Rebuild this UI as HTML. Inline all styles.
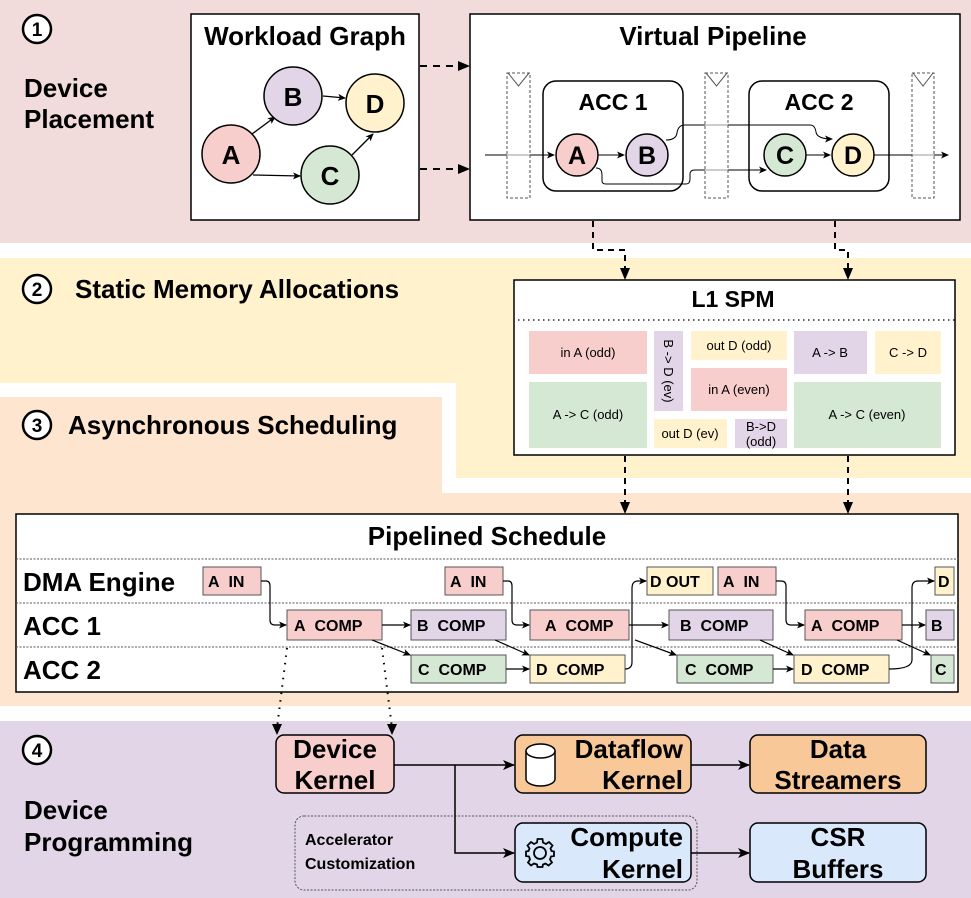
<!DOCTYPE html>
<html><head><meta charset="utf-8"><style>
html,body{margin:0;padding:0;background:#fff}
svg{display:block;font-family:"Liberation Sans",Arial,sans-serif}
.b{font-weight:bold}
</style></head><body>
<svg width="971" height="898" viewBox="0 0 971 898" xmlns="http://www.w3.org/2000/svg">
<defs>
<marker id="ar" markerWidth="8" markerHeight="8" refX="7" refY="4" orient="auto" markerUnits="userSpaceOnUse"><path d="M0,0.5 L8,4 L0,7.5 L2,4 Z" fill="#000"/></marker>
<marker id="ar2" markerWidth="12" markerHeight="12" refX="11" refY="6" orient="auto" markerUnits="userSpaceOnUse"><path d="M0,1 L12,6 L0,11 L3,6 Z" fill="#000"/></marker>
</defs>
<rect x="0" y="0" width="971" height="243" fill="#f2dcdb"/>
<path d="M0,258 H971 V478 H456 V383 H0 Z" fill="#fff2cc"/>
<path d="M0,397 H442 V493 H971 V706 H0 Z" fill="#fde5cf"/>
<rect x="0" y="721" width="971" height="177" fill="#e1d5e7"/>

<circle cx="37" cy="29" r="14" fill="#fff" stroke="#000" stroke-width="2.5"/>
<text x="37" y="36" font-size="19" class="b" text-anchor="middle">1</text>
<text x="24" y="97" font-size="26" class="b">Device</text>
<text x="24" y="128" font-size="26" class="b">Placement</text>

<rect x="191" y="14" width="228" height="206" fill="#fff" stroke="#000" stroke-width="1.5"/>
<text x="305" y="45" font-size="26" class="b" text-anchor="middle">Workload Graph</text>
<g stroke="#000" stroke-width="1.3" fill="none">
<line x1="252" y1="134" x2="275" y2="117" marker-end="url(#ar)"/>
<line x1="323" y1="96" x2="345" y2="98" marker-end="url(#ar)"/>
<line x1="253" y1="175" x2="300" y2="176" marker-end="url(#ar)"/>
<line x1="352" y1="155" x2="373" y2="134" marker-end="url(#ar)"/>
</g>
<g stroke="#000" stroke-width="1.5">
<circle cx="231" cy="154" r="29" fill="#f8cecc"/>
<circle cx="293" cy="96" r="29" fill="#e1d5e7"/>
<circle cx="375" cy="103" r="29" fill="#fff2cc"/>
<circle cx="330" cy="175" r="29" fill="#d5e8d4"/>
</g>
<g font-size="26" class="b" text-anchor="middle">
<text x="231" y="164">A</text><text x="293" y="106">B</text><text x="375" y="113">D</text><text x="330" y="185">C</text>
</g>
<g stroke="#000" stroke-width="2" stroke-dasharray="7,6">
<line x1="420" y1="66" x2="460" y2="66"/><line x1="420" y1="169" x2="460" y2="169"/>
</g>
<path d="M458,61 L470,66 L458,71 Z"/><path d="M458,164 L470,169 L458,174 Z"/>

<rect x="470" y="14" width="490" height="206" fill="#fff" stroke="#000" stroke-width="1.5"/>
<text x="713" y="45" font-size="26" class="b" text-anchor="middle">Virtual Pipeline</text>
<rect x="543" y="81" width="140" height="110" rx="13" fill="none" stroke="#000" stroke-width="1.5"/>
<rect x="749" y="81" width="140" height="110" rx="13" fill="none" stroke="#000" stroke-width="1.5"/>
<text x="613" y="110" font-size="23" class="b" text-anchor="middle">ACC 1</text>
<text x="819" y="110" font-size="23" class="b" text-anchor="middle">ACC 2</text>
<g stroke="#000" stroke-width="1" fill="none">
<path d="M485,155 H554" marker-end="url(#ar)"/>
<path d="M598,155 H624" marker-end="url(#ar)"/>
<path d="M806,155 H830" marker-end="url(#ar)"/>
<path d="M874,155 H948" marker-end="url(#ar)"/>
<path d="M596,168 Q602,168 602,175 L602,181 Q602,184 606,184 L686,184 Q690,184 690,179 L690,174 Q690,170 695,170 L766,170" marker-end="url(#ar)"/>
<path d="M666,140 Q676,140 677,133 Q678,125 685,125 L810,125 Q815,125 816,132 Q817,139 832,139" marker-end="url(#ar)"/>
</g>
<g stroke="#555" stroke-width="1" stroke-dasharray="3,2" fill="#fff" fill-opacity="0.6">
<rect x="507" y="73" width="23" height="125"/>
<rect x="705" y="73" width="23" height="125"/>
<rect x="912" y="73" width="22" height="125"/>
</g>
<g stroke="#555" stroke-width="1" fill="none">
<path d="M508,73 L518.5,86 L529,73"/><path d="M706,73 L716.5,86 L727,73"/><path d="M913,73 L923,86 L933,73"/>
</g>
<g stroke="#000" stroke-width="1.5">
<circle cx="577" cy="155" r="21" fill="#f8cecc"/>
<circle cx="647" cy="155" r="21" fill="#e1d5e7"/>
<circle cx="785" cy="155" r="21" fill="#d5e8d4"/>
<circle cx="853" cy="155" r="21" fill="#fff2cc"/>
</g>
<g font-size="25" class="b" text-anchor="middle">
<text x="577" y="164">A</text><text x="647" y="164">B</text><text x="785" y="164">C</text><text x="853" y="164">D</text>
</g>

<g stroke="#000" stroke-width="2" stroke-dasharray="6,5" fill="none">
<path d="M593,221 V250 H625 V270"/>
<path d="M835,221 V250 H848 V270"/>
<path d="M625,456 V504"/>
<path d="M848,456 V504"/>
</g>
<path d="M620,268 L625,280 L630,268 Z"/><path d="M843,268 L848,280 L853,268 Z"/>
<path d="M620,502 L625,514 L630,502 Z"/><path d="M843,502 L848,514 L853,502 Z"/>

<circle cx="37" cy="289" r="14" fill="#fff" stroke="#000" stroke-width="2.5"/>
<text x="37" y="296" font-size="19" class="b" text-anchor="middle">2</text>
<text x="75" y="298" font-size="26" class="b">Static Memory Allocations</text>
<rect x="514" y="280" width="441" height="175" fill="#fff" stroke="#000" stroke-width="1.5"/>
<text x="733" y="307" font-size="23" class="b" text-anchor="middle">L1 SPM</text>
<line x1="518" y1="320" x2="955" y2="320" stroke="#000" stroke-width="1.3" stroke-dasharray="1.5,3.5"/>
<rect x="529" y="331" width="118" height="43" fill="#f8cecc"/>
<rect x="529" y="382" width="118" height="66" fill="#d5e8d4"/>
<rect x="654" y="331" width="29" height="80" fill="#e1d5e7"/>
<rect x="691" y="331" width="96" height="29" fill="#fff2cc"/>
<rect x="691" y="368" width="96" height="43" fill="#f8cecc"/>
<rect x="654" y="419" width="73" height="29" fill="#fff2cc"/>
<rect x="735" y="419" width="52" height="29" fill="#e1d5e7"/>
<rect x="794" y="331" width="73" height="43" fill="#e1d5e7"/>
<rect x="875" y="331" width="66" height="43" fill="#fff2cc"/>
<rect x="794" y="382" width="147" height="66" fill="#d5e8d4"/>
<g font-size="13" text-anchor="middle">
<text x="588" y="357">in A (odd)</text>
<text x="588" y="419">A -&gt; C (odd)</text>
<text x="739" y="350">out D (odd)</text>
<text x="739" y="394">in A (even)</text>
<text x="690" y="438">out D (ev)</text>
<text x="761" y="431">B-&gt;D</text>
<text x="761" y="446">(odd)</text>
<text x="830" y="357">A -&gt; B</text>
<text x="908" y="357">C -&gt; D</text>
<text x="867" y="419">A -&gt; C (even)</text>
<text transform="translate(664,371) rotate(90)">B -&gt; D (ev)</text>
</g>

<circle cx="37" cy="425" r="14" fill="#fff" stroke="#000" stroke-width="2.5"/>
<text x="37" y="432" font-size="19" class="b" text-anchor="middle">3</text>
<text x="68" y="434" font-size="26" class="b">Asynchronous Scheduling</text>
<rect x="16" y="514" width="942" height="178" fill="#fff" stroke="#000" stroke-width="1.5"/>
<text x="487" y="545" font-size="26" class="b" text-anchor="middle">Pipelined Schedule</text>
<g stroke="#555" stroke-width="1" stroke-dasharray="2,1.5">
<line x1="16" y1="559" x2="958" y2="559"/><line x1="16" y1="603" x2="958" y2="603"/><line x1="16" y1="647" x2="958" y2="647"/>
</g>
<g font-size="26" class="b">
<text x="23" y="591">DMA Engine</text><text x="23" y="635">ACC 1</text><text x="23" y="679">ACC 2</text>
</g>
<g stroke="#555" stroke-width="1">
<rect x="203" y="567" width="58" height="28" fill="#f8cecc"/>
<rect x="445" y="567" width="58" height="28" fill="#f8cecc"/>
<rect x="647" y="567" width="66" height="28" fill="#fff2cc"/>
<rect x="718" y="567" width="58" height="28" fill="#f8cecc"/>
<rect x="935" y="567" width="19" height="28" fill="#fff2cc"/>
<rect x="287" y="610" width="95" height="30" fill="#f8cecc"/>
<rect x="411" y="610" width="95" height="30" fill="#e1d5e7"/>
<rect x="530" y="610" width="99" height="30" fill="#f8cecc"/>
<rect x="669" y="610" width="104" height="30" fill="#e1d5e7"/>
<rect x="805" y="610" width="97" height="30" fill="#f8cecc"/>
<rect x="926" y="610" width="28" height="30" fill="#e1d5e7"/>
<rect x="411" y="655" width="95" height="28" fill="#d5e8d4"/>
<rect x="530" y="655" width="95" height="28" fill="#fff2cc"/>
<rect x="677" y="655" width="96" height="28" fill="#d5e8d4"/>
<rect x="794" y="655" width="95" height="28" fill="#fff2cc"/>
<rect x="931" y="655" width="23" height="28" fill="#d5e8d4"/>
</g>
<g font-size="16" class="b">
<text x="208" y="587">A&#160;&#160;IN</text>
<text x="450" y="587">A&#160;&#160;IN</text>
<text x="650" y="587">D OUT</text>
<text x="723" y="587">A&#160;&#160;IN</text>
<text x="938" y="587">D</text>
<text x="294" y="631">A&#160;&#160;COMP</text>
<text x="417" y="631">B&#160;&#160;COMP</text>
<text x="545" y="631">A&#160;&#160;COMP</text>
<text x="680" y="631">B&#160;&#160;COMP</text>
<text x="811" y="631">A&#160;&#160;COMP</text>
<text x="931" y="631">B</text>
<text x="418" y="675">C&#160;&#160;COMP</text>
<text x="536" y="675">D&#160;&#160;COMP</text>
<text x="685" y="675">C&#160;&#160;COMP</text>
<text x="801" y="675">D&#160;&#160;COMP</text>
<text x="935" y="675">C</text>
</g>
<g stroke="#000" stroke-width="1.2" fill="none">
<path d="M261,581 H266 Q270,581 270,586 V620 Q270,625 275,625 H286" marker-end="url(#ar)"/>
<path d="M382,625 H410" marker-end="url(#ar)"/>
<path d="M372,640 L410,655" marker-end="url(#ar)"/>
<path d="M495,640 L529,655" marker-end="url(#ar)"/>
<path d="M506,669 H529" marker-end="url(#ar)"/>
<path d="M625,669 Q632,669 632,662 V588 Q632,581 638,581 H646" marker-end="url(#ar)"/>
<path d="M503,581 H508 Q512,581 512,586 V620 Q512,625 517,625 H529" marker-end="url(#ar)"/>
<path d="M629,625 H668" marker-end="url(#ar)"/>
<path d="M635,640 L676,655" marker-end="url(#ar)"/>
<path d="M760,640 L793,655" marker-end="url(#ar)"/>
<path d="M773,669 H793" marker-end="url(#ar)"/>
<path d="M776,581 H781 Q786,581 786,586 V620 Q786,625 791,625 H804" marker-end="url(#ar)"/>
<path d="M902,625 H925" marker-end="url(#ar)"/>
<path d="M889,669 Q912,669 912,660 V588 Q912,581 918,581 H934" marker-end="url(#ar)"/>
<path d="M897,640 L930,655" marker-end="url(#ar)"/>
</g>
<g stroke="#000" stroke-width="2" stroke-dasharray="1.5,6" fill="none">
<path d="M287,648 L277,728"/><path d="M382,648 L392,728"/>
</g>
<path d="M272,724 L277,735 L282,724 Z"/><path d="M387,724 L392,735 L397,724 Z"/>

<circle cx="37" cy="750" r="14" fill="#fff" stroke="#000" stroke-width="2.5"/>
<text x="37" y="757" font-size="19" class="b" text-anchor="middle">4</text>
<text x="24" y="819" font-size="26" class="b">Device</text>
<text x="24" y="851" font-size="26" class="b">Programming</text>

<rect x="295" y="816" width="402" height="74" rx="9" fill="none" stroke="#555" stroke-width="1" stroke-dasharray="2,1.5"/>
<text x="305" y="845" font-size="16" class="b">Accelerator</text>
<text x="305" y="869" font-size="16" class="b">Customization</text>

<g stroke="#000" stroke-width="1.5">
<rect x="276" y="735" width="118" height="58" rx="8" fill="#f8cecc"/>
<rect x="515" y="735" width="176" height="58" rx="8" fill="#f9c898"/>
<rect x="750" y="735" width="176" height="58" rx="8" fill="#f9c898"/>
<rect x="515" y="823" width="176" height="59" rx="8" fill="#dae8fc"/>
<rect x="750" y="823" width="176" height="59" rx="8" fill="#dae8fc"/>
</g>
<g stroke="#000" stroke-width="1.5" fill="none">
<path d="M394,765 H514" marker-end="url(#ar2)"/>
<path d="M455,765 V853 H514" marker-end="url(#ar2)"/>
<path d="M691,765 H749" marker-end="url(#ar2)"/>
<path d="M691,853 H749" marker-end="url(#ar2)"/>
</g>
<path d="M526,751 V779 A14.5,7 0 0 0 555,779 V751" fill="#fff" stroke="#000" stroke-width="1.5"/>
<ellipse cx="540.5" cy="751" rx="14.5" ry="7" fill="#fff" stroke="#000" stroke-width="1.5"/>
<g transform="translate(540,853)" stroke="#000" stroke-width="1.8" fill="none">
<circle r="6"/>
<path d="M-2.5,-14 H2.5 L3,-10.5 L6,-9 L9,-11 L12.5,-7.5 L10.5,-4.5 L11.5,-2 L14,-1.5 V3 L11,3.5 L10,6.5 L12,9.5 L8.5,12.5 L5.5,10.5 L3,11.5 L2.5,14 H-2.5 L-3,11.5 L-6,10.5 L-9,12.5 L-12,9.5 L-10,6.5 L-11,3.5 L-14,3 V-1.5 L-11.5,-2 L-10.5,-4.5 L-12.5,-7.5 L-9,-11 L-6,-9 L-3,-10.5 Z"/>
</g>
<g font-size="26" class="b">
<text x="335" y="758" text-anchor="middle">Device</text>
<text x="335" y="789" text-anchor="middle">Kernel</text>
<text x="683" y="758" text-anchor="end">Dataflow</text>
<text x="683" y="789" text-anchor="end">Kernel</text>
<text x="838" y="758" text-anchor="middle">Data</text>
<text x="838" y="789" text-anchor="middle">Streamers</text>
<text x="683" y="846" text-anchor="end">Compute</text>
<text x="683" y="878" text-anchor="end">Kernel</text>
<text x="838" y="846" text-anchor="middle">CSR</text>
<text x="838" y="878" text-anchor="middle">Buffers</text>
</g>
</svg>
</body></html>
